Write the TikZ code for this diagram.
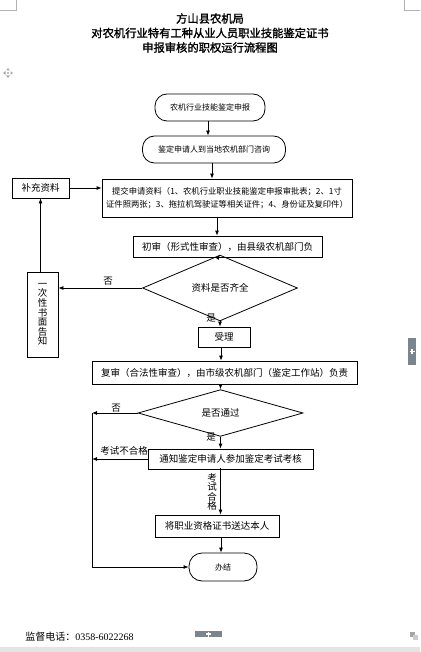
\documentclass[tikz,border=0pt]{standalone}
\usepackage{fontspec}
\usetikzlibrary{arrows.meta,shapes.geometric,calc}
\newfontfamily\cjk{Noto Sans CJK SC}
\newfontfamily\cjkb[FakeBold=1.6]{Noto Sans CJK SC}
\setmainfont{Liberation Serif}
\definecolor{uigray}{HTML}{7A8590}
\definecolor{barg}{HTML}{E4E4E4}
\begin{document}
\begin{tikzpicture}[x=1pt,y=-1pt,
  line width=0.8pt,
  >={Latex[length=5pt,width=4pt]},
  box/.style={draw,rectangle,inner sep=0pt,font=\cjk\fontsize{9.5}{11}\selectfont},
  term/.style={draw,rectangle,rounded corners=12pt,inner sep=0pt,font=\cjk\fontsize{8}{10}\selectfont},
  dia/.style={draw,diamond,inner sep=0pt,font=\cjk\fontsize{9.5}{11}\selectfont},
  lab/.style={inner sep=0pt,font=\cjk\fontsize{9.5}{11}\selectfont},
  ui/.style={fill=uigray,draw=none},
  plus/.style={draw=white,line width=1.2pt}
]
\useasboundingbox (0,0) rectangle (420,652);
\fill[white] (0,0) rectangle (420,652);
% UI chrome
\fill[barg] (0,647) rectangle (420,652);
\draw[gray!60,line width=0.6pt] (0,10) -- (16,10) -- (16,0);
\draw[gray!60,line width=0.6pt] (420,10) -- (404,10) -- (404,0);
\node[ui,minimum width=27pt,minimum height=6pt,inner sep=0pt] (tabb) at (208.5,634) {};
\draw[plus] (206,634) -- (211,634) (208.5,631.5) -- (208.5,636.5);
\node[ui,minimum width=8pt,minimum height=27pt,inner sep=0pt] (tabr) at (412,351.5) {};
\draw[plus] (409.5,351.5) -- (414.5,351.5) (412,349) -- (412,354);
% move icon
\fill[gray!70] (8,68) -- (9.8,70.5) -- (6.2,70.5) -- cycle;
\fill[gray!70] (8,78) -- (9.8,75.5) -- (6.2,75.5) -- cycle;
\fill[gray!70] (3,73) -- (5.5,71.2) -- (5.5,74.8) -- cycle;
\fill[gray!70] (13,73) -- (10.5,71.2) -- (10.5,74.8) -- cycle;
\fill[gray!50] (7.2,72.2) rectangle (8.8,73.8);
% resize icon
\fill[gray!70] (410,632) rectangle (415,637);
\fill[gray!40] (413,635) rectangle (418,640);

% title
\node[inner sep=0pt,align=center,font=\cjkb\fontsize{11.3}{14.5}\selectfont] (title) at (210,33)
  {方山县农机局\\对农机行业特有工种从业人员职业技能鉴定证书\\申报审核的职权运行流程图};

% nodes
\node[term,minimum width=110pt,minimum height=27pt] (t1) at (210,107.5) {农机行业技能鉴定申报};
\node[term,minimum width=143pt,minimum height=27pt] (t2) at (214,149.5) {鉴定申请人到当地农机部门咨询};
\node[box,minimum width=250pt,minimum height=38pt,align=center,font=\cjk\fontsize{8.3}{13}\selectfont] (b3) at (227,198)
  {提交申请资料（1、农机行业职业技能鉴定申报审批表；2、1寸\\证件照两张；3、拖拉机驾驶证等相关证件；4、身份证及复印件）};
\node[box,minimum width=57pt,minimum height=20pt] (bc) at (40.5,188) {补充资料};
\node[box,minimum width=189pt,minimum height=21pt] (b4) at (227.5,246.5) {初审（形式性审查），由县级农机部门负};
\node[dia,minimum width=155pt,minimum height=31pt] (d1) at (220,288) {资料是否齐全};
\node[box,minimum width=31pt,minimum height=85pt,align=center,font=\cjk\fontsize{9.5}{9.6}\selectfont] (bn) at (42.5,314.5)
  {一\\次\\性\\书\\面\\告\\知};
\node[box,minimum width=52pt,minimum height=20pt] (b5) at (224,337) {受理};
\node[box,minimum width=265pt,minimum height=23pt] (b6) at (224.5,372.5) {复审（合法性审查），由市级农机部门（鉴定工作站）负责};
\node[dia,minimum width=165pt,minimum height=32pt] (d2) at (220.5,413) {是否通过};
\node[box,minimum width=165pt,minimum height=20pt] (b7) at (230.5,459) {通知鉴定申请人参加鉴定考试考核};
\node[box,minimum width=124pt,minimum height=22pt] (b8) at (217,526) {将职业资格证书送达本人};
\node[term,minimum width=68pt,minimum height=28pt,rounded corners=13pt] (t3) at (223,567) {办结};

% labels
\node[lab] (no1) at (108,281) {否};
\node[lab] (yes1) at (211,318) {是};
\node[lab] (no2) at (116,408) {否};
\node[lab] (yes2) at (211,437) {是};
\node[lab] (fail) at (124,451) {考试不合格};
\node[lab,align=center,font=\cjk\fontsize{9.5}{9.3}\selectfont] (pass) at (212,492) {考\\试\\合\\格};

% footer
\node[inner sep=0pt,anchor=west,font=\cjk\fontsize{10}{12}\selectfont] (foot) at (25,637)
  {监督电话：{\rmfamily 0358-6022268}};

% connectors
\draw[->] (t1.south -| 208,0) -- (t2.north -| 208,0);
\draw[->] (t2.south -| 212,0) -- (b3.north -| 212,0);
\draw[->] (b3.south -| 217,0) -- (b4.north -| 217,0);
\draw[->] (b4.south -| 218,0) -- (d1.north);
\draw[->] (d1.south) -- (b5.north -| d1.south);
\draw[->] (bc.east) -- (bc.east -| b3.west);
\draw[->] (d1.west) -- (d1.west -| bn.east);
\draw[->] (bc.south |- bn.north) -- (bc.south);
\draw[->] (b5.south -| 221,0) -- (b6.north -| 221,0);
\draw[->] (b6.south -| 220.5,0) -- (d2.north);
\draw[->] (d2.south) -- (b7.north -| d2.south);
\draw[->] (b8.north -| 220.5,0) ++(0,-47) -- (b8.north -| 220.5,0);
\draw[->] (b8.south -| 221,0) -- (t3.north -| 221,0);
\coordinate (L) at (92,413);
\draw[->] (d2.west) -- (L);
\draw[->] (b7.west) -- (b7.west -| L);
\draw[->] (L) -- (L |- t3.west) -- (t3.west);
\end{tikzpicture}
\end{document}
